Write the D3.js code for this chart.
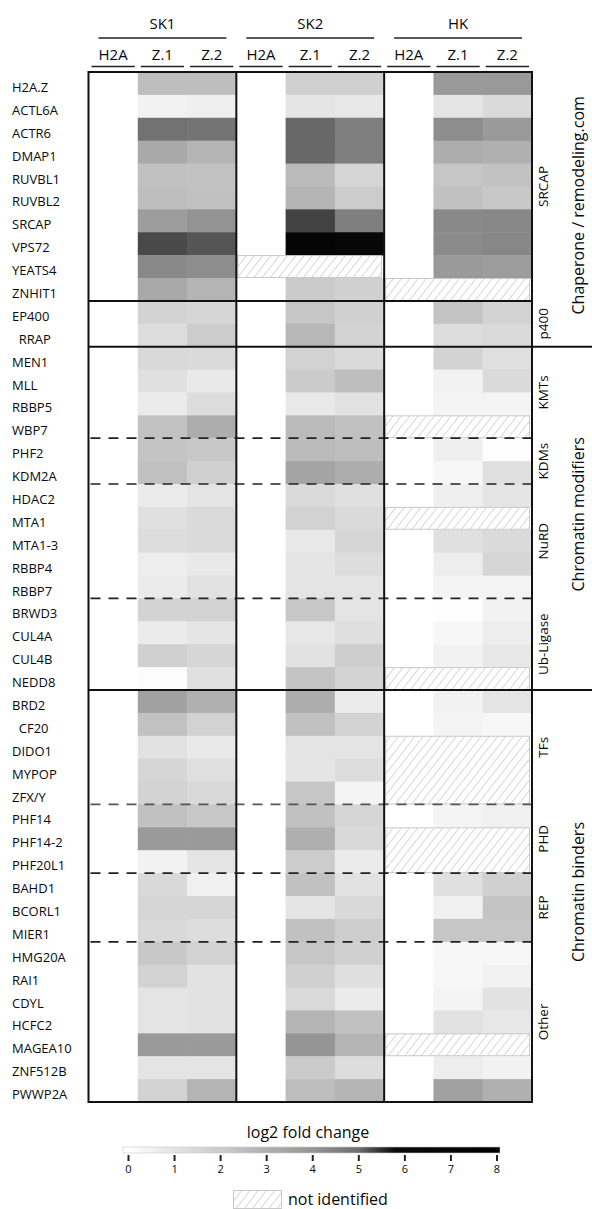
<!DOCTYPE html>
<html>
<head>
<meta charset="utf-8" />
<style>
  body { margin: 0; background: #fff; }
  svg text { font-family: "Open Sans", "DejaVu Sans", sans-serif; fill: #0a0a0a; }
</style>
</head>
<body>
<svg width="592" height="1209"></svg>
<script src="https://d3js.org/d3.v7.min.js"></script>
<script>
  // ---- data (log2 fold change vs H2A, null = not identified) ----
  var genes = ["H2A.Z","ACTL6A","ACTR6","DMAP1","RUVBL1","RUVBL2","SRCAP","VPS72","YEATS4","ZNHIT1",
    "EP400","  RRAP","MEN1","MLL","RBBP5","WBP7","PHF2","KDM2A","HDAC2","MTA1","MTA1-3","RBBP4","RBBP7",
    "BRWD3","CUL4A","CUL4B","NEDD8","BRD2","  CF20","DIDO1","MYPOP","ZFX/Y","PHF14","PHF14-2","PHF20L1",
    "BAHD1","BCORL1","MIER1","HMG20A","RAI1","CDYL","HCFC2","MAGEA10","ZNF512B","PWWP2A"];

  var groups = ["SK1", "SK2", "HK"];
  var columns = ["H2A", "Z.1", "Z.2"];

  var sk1Z1 = [2.5,0.5,4.9,3.25,2.4,2.5,3.7,5.3,4.3,3.3, 1.7,1.3, 1.45,1.15,0.75,2.35, 2.3,2.4,
    0.75,1.15,1.3,0.65,0.75, 1.7,0.75,1.85,0.1, 3.55,2.35,1.1,1.6,1.7, 2.4,3.8,0.5, 1.45,1.6,1.45,
    2.15,1.7,1.0,1.0,3.8,1.0,1.7];
  var sk1Z2 = [2.5,0.6,4.85,2.85,2.35,2.4,4.05,5.2,4.2,2.85, 1.6,2.0, 1.4,0.8,1.3,3.1, 2.15,1.85,
    1.0,1.4,1.4,0.8,1.1, 1.75,0.95,1.6,1.15, 3.0,1.75,0.8,1.15,1.45, 2.15,3.8,1.0, 0.55,1.6,1.3,
    1.75,1.1,1.1,1.1,3.8,1.0,2.85];
  var sk2Z1 = [1.85,0.95,5.05,5.05,2.65,2.85,5.35,7.0,null,2.05, 2.2,2.75, 1.75,2.05,0.8,2.6, 2.6,3.45,
    1.4,1.75,0.8,0.95,1.0, 2.15,0.9,1.1,2.3, 3.1,2.4,1.0,0.95,2.2, 2.4,3.05,2.0, 2.4,0.95,2.4,
    2.2,1.85,1.4,2.85,4.0,2.05,2.5];
  var sk2Z2 = [1.85,0.9,4.6,4.6,1.6,2.0,4.6,6.5,null,1.85, 1.85,1.7, 1.4,2.5,1.1,2.4, 2.5,3.1,
    1.15,1.4,1.6,1.3,1.0, 1.0,1.2,1.9,1.7, 0.75,1.7,1.0,1.3,0.4, 1.6,1.45,0.75, 1.1,1.45,1.9,
    1.85,1.2,0.75,2.4,2.85,1.3,2.85];
  var hkZ1 = [3.8,1.0,4.2,3.1,2.2,2.4,4.3,4.25,3.8,null, 2.3,1.3, 1.7,0.5,0.4,null, 0.6,0.3,
    0.6,null,1.15,0.65,0.4, 0.05,0.3,0.5,null, 0.5,0.4,null,null,null, 0.4,null,null, 1.15,0.55,2.2,
    0.3,0.3,0.4,1.1,null,0.65,3.55];
  var hkZ2 = [3.85,1.4,3.8,3.0,2.35,2.15,4.35,4.35,3.7,null, 1.7,1.4, 1.15,1.4,0.4,null, 0.05,1.15,
    0.95,null,1.4,1.6,0.45, 0.5,0.65,0.9,null, 1.0,0.3,null,null,null, 0.55,null,null, 1.85,2.3,2.2,
    0.3,0.5,1.1,0.9,null,0.5,3.0];

  // sub-complexes / classes (first row index, last row index)
  var subNames = ["SRCAP","p400","KMTs","KDMs","NuRD","Ub-Ligase","TFs","PHD","REP","Other"];
  var subStart = [0, 10, 12, 16, 18, 23, 27, 32, 35, 38];
  var subEnd   = [9, 11, 15, 17, 22, 26, 31, 34, 37, 44];
  var majorNames = ["Chaperone / remodeling.com", "Chromatin modifiers", "Chromatin binders"];
  var majorStart = [0, 12, 27];
  var majorEnd   = [11, 26, 44];

  var legendTicks = [0, 1, 2, 3, 4, 5, 6, 7, 8];

  var values = {
    SK1: [null, sk1Z1, sk1Z2],
    SK2: [null, sk2Z1, sk2Z2],
    HK:  [null, hkZ1, hkZ2]
  };

  // ---- layout ----
  var svg = d3.select("svg");
  var mapLeft = 88.5, mapRight = 532, mapTop = 72, mapBottom = 1102;

  var gx = d3.scaleBand().domain(groups).range([mapLeft, mapRight]);
  var cx = d3.scaleBand().domain(columns).range([0, gx.bandwidth()]);
  var y = d3.scaleBand().domain(d3.range(genes.length)).range([mapTop, mapBottom]);

  var color = d3.scaleLinear()
    .domain([0, 1, 2, 3, 4, 5, 5.8, 8])
    .range(["#ffffff", "#e4e4e4", "#cccccc", "#b0b0b0", "#959595", "#6e6e6e", "#0a0a0a", "#000000"])
    .clamp(true);

  // hatch pattern
  var defs = svg.append("defs");
  var pat = defs.append("pattern")
    .attr("id", "hatch")
    .attr("patternUnits", "userSpaceOnUse")
    .attr("width", 6.5).attr("height", 6.5)
    .attr("patternTransform", "rotate(38)");
  pat.append("line")
    .attr("x1", 0).attr("y1", 0).attr("x2", 0).attr("y2", 6.5)
    .attr("stroke", "#b8b8b8").attr("stroke-width", 1.1);

  // header
  var header = svg.append("g");
  header.selectAll(".gtitle")
    .data(groups).enter().append("text")
    .attr("x", function (d) { return gx(d) + gx.bandwidth() / 2; })
    .attr("y", 29)
    .attr("text-anchor", "middle")
    .style("font-size", "15px")
    .text(function (d) { return d; });

  header.selectAll(".gline")
    .data(groups).enter().append("line")
    .attr("x1", function (d) { return gx(d) + 10; })
    .attr("x2", function (d) { return gx(d) + gx.bandwidth() - 10; })
    .attr("y1", 38).attr("y2", 38)
    .attr("stroke", "#222").attr("stroke-width", 1.4);

  groups.forEach(function (g) {
    columns.forEach(function (c) {
      header.append("text")
        .attr("x", gx(g) + cx(c) + cx.bandwidth() / 2)
        .attr("y", 60)
        .attr("text-anchor", "middle")
        .style("font-size", "15px")
        .text(c);
      header.append("line")
        .attr("x1", gx(g) + cx(c) + 3)
        .attr("x2", gx(g) + cx(c) + cx.bandwidth() - 3)
        .attr("y1", 66.5).attr("y2", 66.5)
        .attr("stroke", "#222").attr("stroke-width", 1.4);
    });
  });

  // cells
  var cells = svg.append("g");
  groups.forEach(function (g) {
    [1, 2].forEach(function (ci) {
      var arr = values[g][ci];
      cells.selectAll(null)
        .data(arr.map(function (v, i) { return { v: v, i: i }; }).filter(function (d) { return d.v !== null; }))
        .enter().append("rect")
        .attr("x", gx(g) + cx(columns[ci]))
        .attr("y", function (d) { return y(d.i); })
        .attr("width", cx.bandwidth() + 0.5)
        .attr("height", y.bandwidth() + 0.5)
        .attr("fill", function (d) { return color(d.v); });
    });

    // hatched runs where the group has no value
    var arr = values[g][1];
    var runs = [];
    arr.forEach(function (v, i) {
      if (v === null) {
        if (runs.length && runs[runs.length - 1][1] === i - 1) runs[runs.length - 1][1] = i;
        else runs.push([i, i]);
      }
    });
    cells.selectAll(null)
      .data(runs).enter().append("rect")
      .attr("x", gx(g) + 1.5)
      .attr("y", function (d) { return y(d[0]) + 0.5; })
      .attr("width", gx.bandwidth() - 4)
      .attr("height", function (d) { return y(d[1]) + y.bandwidth() - y(d[0]) - 1; })
      .attr("fill", "url(#hatch)")
      .attr("stroke", "#c8c8c8")
      .attr("stroke-width", 1);
  });

  // row labels
  svg.append("g").selectAll("text")
    .data(genes).enter().append("text")
    .attr("x", 12)
    .attr("y", function (d, i) { return y(i) + y.bandwidth() / 2 + 8.5; })
    .style("font-size", "13px")
    .style("white-space", "pre")
    .text(function (d) { return d; });

  // separators
  var lines = svg.append("g");
  // dashed: boundaries between sub-classes inside a major group
  var dashedAt = [], solidAt = [], longAt = [];
  subStart.forEach(function (s, k) {
    if (k === 0) return;
    if (majorStart.indexOf(s) >= 0) longAt.push(s);
    else if (s === 10) solidAt.push(s);
    else dashedAt.push(s);
  });

  lines.selectAll(".dash")
    .data(dashedAt).enter().append("line")
    .attr("x1", mapLeft + 2).attr("x2", mapRight)
    .attr("y1", function (d) { return y(d); })
    .attr("y2", function (d) { return y(d); })
    .attr("stroke", function (d) { return d === 32 ? "#555" : "#222"; })
    .attr("stroke-width", 1.7)
    .attr("stroke-dasharray", "10,8");

  lines.selectAll(".solid")
    .data(solidAt).enter().append("line")
    .attr("x1", mapLeft).attr("x2", mapRight)
    .attr("y1", function (d) { return y(d); })
    .attr("y2", function (d) { return y(d); })
    .attr("stroke", "#111").attr("stroke-width", 2);

  lines.selectAll(".long")
    .data(longAt).enter().append("line")
    .attr("x1", mapLeft).attr("x2", 592)
    .attr("y1", function (d) { return y(d); })
    .attr("y2", function (d) { return y(d); })
    .attr("stroke", "#111").attr("stroke-width", 2);

  // group dividers and frame
  lines.selectAll(".gdiv")
    .data(gx.domain().slice(1)).enter().append("line")
    .attr("x1", function (d) { return gx(d); })
    .attr("x2", function (d) { return gx(d); })
    .attr("y1", mapTop).attr("y2", mapBottom)
    .attr("stroke", "#111").attr("stroke-width", 2);

  lines.append("rect")
    .attr("x", mapLeft).attr("y", mapTop)
    .attr("width", mapRight - mapLeft).attr("height", mapBottom - mapTop)
    .attr("fill", "none").attr("stroke", "#111").attr("stroke-width", 2);

  // right-hand annotations
  var ann = svg.append("g");
  subNames.forEach(function (name, k) {
    var cy = (y(subStart[k]) + y(subEnd[k]) + y.bandwidth()) / 2;
    ann.append("text")
      .attr("transform", "translate(543," + cy + ") rotate(-90)")
      .attr("text-anchor", "middle")
      .attr("dominant-baseline", "central")
      .style("font-size", "13.5px")
      .text(name);
  });
  majorNames.forEach(function (name, k) {
    var cy = (y(majorStart[k]) + y(majorEnd[k]) + y.bandwidth()) / 2;
    ann.append("text")
      .attr("transform", "translate(578," + (cy - 4) + ") rotate(-90)")
      .attr("text-anchor", "middle")
      .attr("dominant-baseline", "central")
      .style("font-size", "16px")
      .text(name);
  });

  // legend
  var lx = d3.scaleLinear().domain([0, 8]).range([128, 496.5]);
  var grad = defs.append("linearGradient")
    .attr("id", "grad")
    .attr("gradientUnits", "userSpaceOnUse")
    .attr("x1", lx(0)).attr("x2", lx(8)).attr("y1", 0).attr("y2", 0);
  grad.selectAll("stop")
    .data(d3.range(0, 8.01, 0.1)).enter().append("stop")
    .attr("offset", function (d) { return d / 8; })
    .attr("stop-color", function (d) { return color(d); });

  var leg = svg.append("g");
  leg.append("text")
    .attr("x", 308).attr("y", 1138)
    .attr("text-anchor", "middle")
    .style("font-size", "16px")
    .text("log2 fold change");

  leg.append("rect")
    .attr("x", 123).attr("y", 1147)
    .attr("width", 500 - 123).attr("height", 6)
    .attr("fill", "url(#grad)")
    .attr("stroke", "#c8c8c8").attr("stroke-width", 0.6);

  var axis = leg.append("g")
    .attr("transform", "translate(0,1155)")
    .call(d3.axisBottom(lx).tickValues(legendTicks).tickSize(6).tickPadding(4).tickFormat(d3.format("d")));
  axis.select(".domain").remove();
  axis.selectAll(".tick line").attr("stroke", "#222").attr("stroke-width", 2);
  axis.selectAll(".tick text")
    .style("font-family", "\"Open Sans\", sans-serif")
    .style("font-size", "11px")
    .attr("fill", "#222");

  leg.append("rect")
    .attr("x", 233.5).attr("y", 1190.5)
    .attr("width", 48).attr("height", 18)
    .attr("fill", "url(#hatch)")
    .attr("stroke", "#c8c8c8").attr("stroke-width", 1);

  leg.append("text")
    .attr("x", 288).attr("y", 1205)
    .style("font-size", "16px")
    .text("not identified");
</script>
</body>
</html>
